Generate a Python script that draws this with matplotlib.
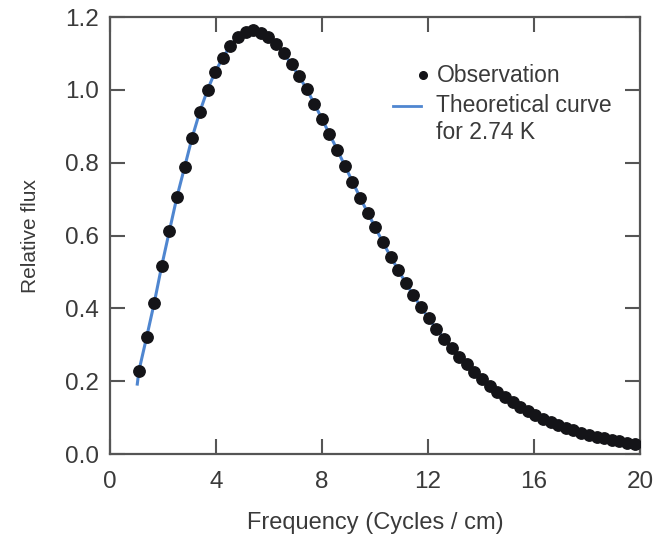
"""
Cosmic background radiation spectrum: measured flux vs. blackbody curve.
"""

import matplotlib
matplotlib.use('Agg')
import matplotlib.pyplot as plt

# Observed relative flux at each measured frequency (cycles / cm)
freq = [1.09, 1.38, 1.67, 1.95, 2.24, 2.53, 2.82, 3.10, 3.39, 3.68,
        3.97, 4.26, 4.54, 4.83, 5.12, 5.41, 5.69, 5.98, 6.27, 6.56,
        6.85, 7.13, 7.42, 7.71, 8.00, 8.28, 8.57, 8.86, 9.15, 9.44,
        9.72, 10.01, 10.30, 10.59, 10.87, 11.16, 11.45, 11.74, 12.02, 12.31,
        12.60, 12.89, 13.18, 13.46, 13.75, 14.04, 14.33, 14.62, 14.90, 15.19,
        15.48, 15.77, 16.05, 16.34, 16.63, 16.92, 17.21, 17.49, 17.78, 18.07,
        18.36, 18.64, 18.93, 19.22, 19.51, 19.80]
flux = [0.228, 0.320, 0.415, 0.516, 0.612, 0.707, 0.789, 0.869, 0.940, 1.000,
        1.050, 1.088, 1.121, 1.146, 1.160, 1.165, 1.157, 1.144, 1.125, 1.100,
        1.070, 1.038, 1.002, 0.962, 0.920, 0.879, 0.836, 0.792, 0.748, 0.704,
        0.663, 0.622, 0.581, 0.542, 0.506, 0.470, 0.436, 0.403, 0.373, 0.344,
        0.317, 0.291, 0.267, 0.246, 0.225, 0.206, 0.188, 0.171, 0.156, 0.142,
        0.129, 0.117, 0.107, 0.097, 0.088, 0.079, 0.072, 0.065, 0.059, 0.053,
        0.048, 0.043, 0.039, 0.035, 0.031, 0.028]

# Blackbody curve for 2.74 K (starts just below the first measurement)
theory_freq = [1.03] + freq
theory_flux = [0.192] + flux

x_ticks = [0, 4, 8, 12, 16, 20]
y_ticks = [0.0, 0.2, 0.4, 0.6, 0.8, 1.0, 1.2]

plt.rcParams['font.family'] = ['Liberation Sans', 'DejaVu Sans']
text_color = '#3a3a3a'
spine_color = '#555555'

fig = plt.figure(figsize=(6.61, 5.35), dpi=100)
ax = fig.add_axes([0.1664, 0.1514, 0.8018, 0.8168])

ax.plot(theory_freq, theory_flux, color='#4f86d0', linewidth=2.2, zorder=2)
ax.plot(freq, flux, linestyle='none', marker='o', markersize=8.2,
        color='#141418', zorder=3)

ax.set_xlim(0, 20)
ax.set_ylim(0, 1.2)
ax.set_xticks(x_ticks)
ax.set_xticklabels([str(t) for t in x_ticks])
ax.set_yticks(y_ticks)
ax.set_yticklabels([f'{t:.1f}' for t in y_ticks])

ax.tick_params(direction='in', length=11, width=1.5, color=spine_color,
               top=True, right=True, labelsize=17.5, labelcolor=text_color)
ax.tick_params(axis='x', pad=12)
ax.tick_params(axis='y', pad=8)
for spine in ax.spines.values():
    spine.set_color(spine_color)
    spine.set_linewidth(1.6)

ax.set_xlabel('Frequency (Cycles / cm)', fontsize=17, color=text_color, labelpad=14)
ax.set_ylabel('Relative flux', fontsize=15, color=text_color, labelpad=18)

# Legend keys drawn by hand so the line sits beside the first text row
ax.plot([0.591], [0.867], transform=ax.transAxes, marker='o', markersize=5.5,
        color='#141418', linestyle='none', clip_on=False)
ax.plot([0.534, 0.587], [0.797, 0.797], transform=ax.transAxes, color='#4f86d0',
        linewidth=2, clip_on=False)
ax.text(0.616, 0.867, 'Observation', transform=ax.transAxes, fontsize=16.5,
        color=text_color, va='center', ha='left')
ax.text(0.616, 0.797, 'Theoretical curve', transform=ax.transAxes, fontsize=16.5,
        color=text_color, va='center', ha='left')
ax.text(0.616, 0.736, 'for 2.74 K', transform=ax.transAxes, fontsize=16.5,
        color=text_color, va='center', ha='left')

fig.savefig('out.png', dpi=100)
